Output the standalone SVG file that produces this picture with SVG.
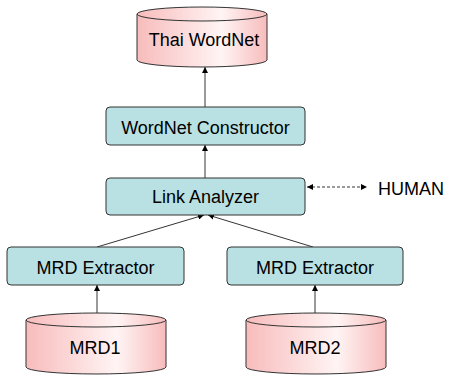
<svg xmlns="http://www.w3.org/2000/svg" width="457" height="379" viewBox="0 0 457 379">
  <defs>
    <linearGradient id="dbFill" x1="0" y1="0" x2="1" y2="0">
      <stop offset="0" stop-color="#f8bcbc"/>
      <stop offset="0.65" stop-color="#fff4f4"/>
      <stop offset="1" stop-color="#f8bcbc"/>
    </linearGradient>
    <marker id="arr" viewBox="0 0 6 6" refX="6" refY="3" markerWidth="6" markerHeight="6" orient="auto" markerUnits="userSpaceOnUse">
      <path d="M0,0 L6,3 L0,6 z" fill="#000"/>
    </marker>
    <marker id="arrStart" viewBox="0 0 6 6" refX="0" refY="3" markerWidth="6" markerHeight="6" orient="auto" markerUnits="userSpaceOnUse">
      <path d="M6,0 L0,3 L6,6 z" fill="#000"/>
    </marker>
  </defs>
  <style>
    .box { fill: #b9e0e2; stroke: #333; stroke-width: 1; }
    .db { fill: url(#dbFill); stroke: #333; stroke-width: 1; }
    .lbl { font-family: "Liberation Sans", Arial, sans-serif; font-size: 18px; fill: #000; text-anchor: middle; }
    .edge { stroke: #000; stroke-width: 0.8; fill: none; marker-end: url(#arr); }
  </style>
  <rect width="457" height="379" fill="#fff"/>

  <g id="connectors">
    <line class="edge" x1="205" y1="107" x2="205" y2="67"/>
    <line class="edge" x1="205" y1="178" x2="205" y2="145"/>
    <line class="edge" x1="97" y1="247" x2="204" y2="215"/>
    <line class="edge" x1="313" y1="247" x2="208" y2="215"/>
    <line class="edge" x1="97" y1="313" x2="97" y2="285"/>
    <line class="edge" x1="315" y1="313" x2="315" y2="285"/>
    <line x1="307" y1="187" x2="367" y2="187" stroke="#000" stroke-width="0.8" stroke-dasharray="3,2" marker-start="url(#arrStart)" marker-end="url(#arr)"/>
  </g>

  <g id="thai-wordnet">
    <path class="db" d="M137,14 L137,60 A65,7 0 0 0 267,60 L267,14"/>
    <ellipse class="db" cx="202" cy="14" rx="65" ry="7"/>
    <text class="lbl" x="204" y="46">Thai WordNet</text>
  </g>

  <g id="wordnet-constructor">
    <rect class="box" x="106" y="107" width="199" height="38" rx="4"/>
    <text class="lbl" x="205.5" y="134">WordNet Constructor</text>
  </g>

  <g id="link-analyzer">
    <rect class="box" x="106" y="178" width="199" height="37" rx="4"/>
    <text class="lbl" x="205.5" y="203">Link Analyzer</text>
  </g>

  <g id="human">
    <text x="378" y="195" font-family="Liberation Sans, Arial, sans-serif" font-size="18" fill="#000">HUMAN</text>
  </g>

  <g id="mrd-extractor-1">
    <rect class="box" x="7" y="247" width="177" height="38" rx="4"/>
    <text class="lbl" x="95.5" y="274">MRD Extractor</text>
  </g>

  <g id="mrd-extractor-2">
    <rect class="box" x="227" y="247" width="176" height="38" rx="4"/>
    <text class="lbl" x="315" y="274">MRD Extractor</text>
  </g>

  <g id="mrd1">
    <path class="db" d="M26,320 L26,367 A70,7 0 0 0 166,367 L166,320"/>
    <ellipse class="db" cx="96" cy="320" rx="70" ry="7"/>
    <text class="lbl" x="95" y="354">MRD1</text>
  </g>

  <g id="mrd2">
    <path class="db" d="M246,320 L246,367 A70,7 0 0 0 386,367 L386,320"/>
    <ellipse class="db" cx="316" cy="320" rx="70" ry="7"/>
    <text class="lbl" x="315" y="354">MRD2</text>
  </g>
</svg>
